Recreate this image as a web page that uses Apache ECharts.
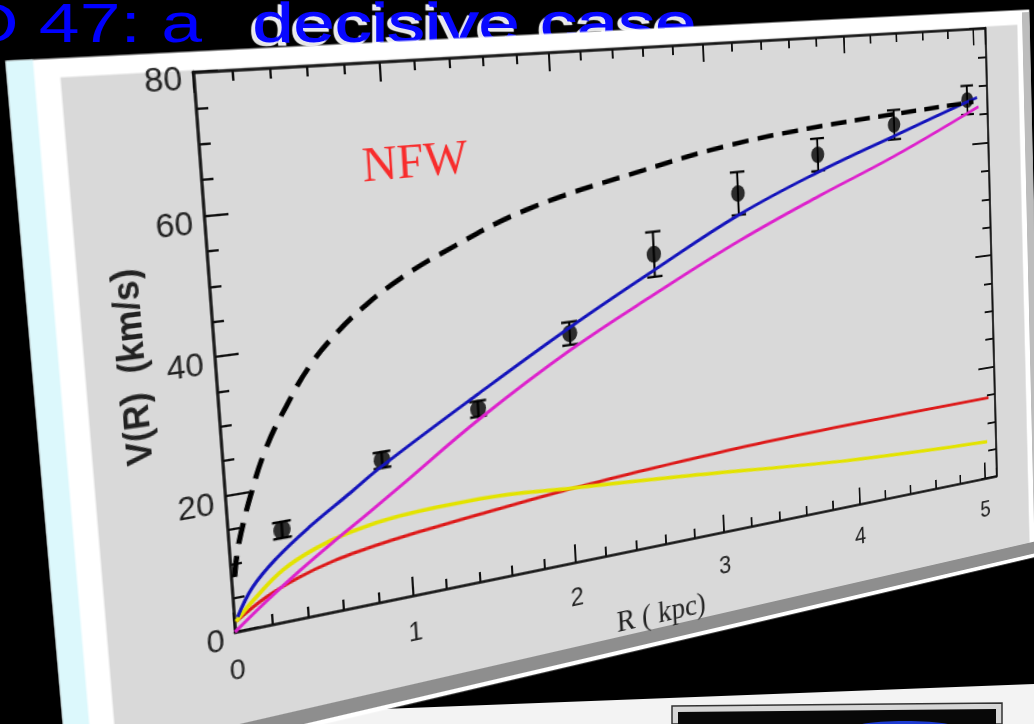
<!DOCTYPE html>
<html>
<head>
<meta charset="utf-8">
<script src="https://cdn.jsdelivr.net/npm/echarts@6/dist/echarts.min.js"></script>
<style>
  html, body { margin: 0; padding: 0; background: #000; overflow: hidden; }
  #stage { position: absolute; left: 0; top: 0; width: 1034px; height: 724px; }
  #plot { position: absolute; left: 0; top: 0; width: 1010px; height: 600px; transform-origin: 0 0; }
</style>
</head>
<body>
<div id="stage"></div>
<div id="plot"></div>
<script>
// ---- DDO 47 rotation curve: observed points (R in kpc, V in km/s) ----
const pointR   = [0.29, 0.87, 1.45, 2.04, 2.61, 3.20, 3.78, 4.36, 4.94];
const pointV   = [13.6, 21.4, 26.8, 36.4, 47.2, 55.5, 60.6, 64.5, 67.7];
const pointErr = [1.2, 1.2, 1.2, 1.8, 3.6, 3.5, 2.7, 2.5, 2.5];

// NFW halo prediction (dashed)
const nfwR = [0.02, 0.05, 0.14, 0.24, 0.36, 0.50, 0.66, 0.84, 1.04, 1.28, 1.81, 2.57, 3.14, 3.73, 4.36, 4.99];
const nfwV = [8.0, 12.3, 19.7, 26.1, 31.5, 36.8, 41.1, 44.8, 48.0, 51.0, 56.3, 60.7, 63.4, 65.1, 66.3, 67.3];

// total fit (blue)
const blueR = [0.02, 0.11, 0.25, 0.44, 0.68, 0.87, 1.45, 2.04, 2.61, 3.20, 3.78, 4.36, 4.94, 5.02];
const blueV = [2.1, 6.0, 9.6, 13.3, 17.3, 20.5, 29.0, 37.3, 44.7, 52.0, 57.7, 62.6, 67.4, 68.0];

// dark halo component (magenta)
const magentaR = [0, 0.18, 0.37, 0.57, 0.75, 0.96, 1.46, 2.04, 2.61, 3.20, 3.78, 4.36, 5.03];
const magentaV = [0, 3.6, 7.1, 10.5, 13.4, 16.9, 25.3, 33.8, 40.9, 47.8, 53.7, 59.2, 66.4];

// gas component (red)
const redR = [0.01, 0.18, 0.37, 0.56, 0.75, 0.94, 1.42, 2.02, 2.77, 3.38, 4.34, 5.05];
const redV = [1.5, 4.2, 6.2, 7.6, 8.5, 9.2, 10.5, 11.9, 13.1, 13.8, 14.3, 14.5];

// stellar disk component (yellow)
const yellowR = [0.01, 0.11, 0.28, 0.47, 0.66, 0.95, 1.43, 2.02, 2.72, 3.97, 5.03];
const yellowV = [1.5, 4.1, 7.7, 10.0, 11.4, 12.5, 12.9, 11.9, 10.6, 7.9, 6.6];

// axis ticks
const xMajorStep = 1, xMinorStep = 0.2, xMax = 5.1;
const yMajorStep = 20, yMinorStep = 5, yMax = 80;

// annotation
const nfwTag = { text: 'NFW', r: 1.17, v: 64.7 };

const pairs = (xs, ys) => xs.map((x, i) => [x, ys[i]]);

// ---------- flat slide layout ----------
const L = 150, T = 20, W = 800, H = 470;
// where the plot frame of the slide lands on screen (TL, TR, BR, BL)
const frameQuad = [[193, 72], [985, 28], [996.5, 476], [235, 632]];

function quadMatrix(x0f, y0f, w, h, q) {
  const [p0, p1, p2, p3] = q;
  const dx1 = p1[0] - p2[0], dx2 = p3[0] - p2[0], dx3 = p0[0] - p1[0] + p2[0] - p3[0];
  const dy1 = p1[1] - p2[1], dy2 = p3[1] - p2[1], dy3 = p0[1] - p1[1] + p2[1] - p3[1];
  const den = dx1 * dy2 - dx2 * dy1;
  const g = (dx3 * dy2 - dx2 * dy3) / den;
  const hh = (dx1 * dy3 - dx3 * dy1) / den;
  const a = p1[0] - p0[0] + g * p1[0], b = p3[0] - p0[0] + hh * p3[0], c = p0[0];
  const d = p1[1] - p0[1] + g * p1[1], e = p3[1] - p0[1] + hh * p3[1], f = p0[1];
  const A = a / w, B = b / h, C = c - a * x0f / w - b * y0f / h;
  const D = d / w, E = e / h, F = f - d * x0f / w - e * y0f / h;
  const G = g / w, HH = hh / h, I = 1 - g * x0f / w - hh * y0f / h;
  return [A / I, D / I, 0, G / I, B / I, E / I, 0, HH / I, 0, 0, 1, 0, C / I, F / I, 0, 1];
}
document.getElementById('plot').style.transform =
  'matrix3d(' + quadMatrix(L, T, W, H, frameQuad).join(',') + ')';

// ---------- background: black page, title, next slide peeking in ----------
const stage = echarts.init(document.getElementById('stage'), null, { renderer: 'canvas' });
stage.setOption({
  backgroundColor: '#000',
  graphic: { elements: [
    { type: 'polygon', z: 1, shape: { points: [[200, 716], [1034, 684], [1034, 724], [200, 724]] },
      style: { fill: '#f3f3f3' } },
    { type: 'polygon', z: 2, shape: { points: [[672, 706], [1002, 703], [1002, 724], [672, 724]] },
      style: { fill: '#d6d6d6', stroke: '#333', lineWidth: 1.5 } },
    { type: 'polygon', z: 3, shape: { points: [[678, 712], [996, 709], [996, 724], [678, 724]] },
      style: { fill: '#080808' } },
    { type: 'ellipse', z: 4, shape: { cx: 905, cy: 729, rx: 55, ry: 8 }, style: { fill: '#1e3cd2' } },
    { type: 'text', z: 5, x: 202, y: 27, scaleX: 1.31,
      style: { text: 'DDO 47: a', font: '56px "Liberation Sans", Arial, sans-serif',
               fill: '#0000ff', align: 'right', verticalAlign: 'middle' } },
    { type: 'text', z: 5, x: 252, y: 27, scaleX: 1.32,
      style: { text: 'decisive case', font: '56px "Liberation Sans", Arial, sans-serif',
               fill: '#0808ff', align: 'left', verticalAlign: 'middle',
               stroke: '#0808ff', lineWidth: 1.5,
               textShadowColor: 'rgba(255,255,255,0.9)', textShadowBlur: 1,
               textShadowOffsetX: -3, textShadowOffsetY: 3 } }
  ] }
});

// ---------- the slide with the plot ----------
const px = u => L + u * W, py = v => T + v * H;   // v measured downward from frame top
const panel = [
  { type: 'rect', z: -30, shape: { x: px(-0.177), y: py(-0.035), width: px(1.072) - px(-0.177), height: py(1.207) - py(-0.035) }, style: { fill: '#ffffff' } },
  { type: 'rect', z: -29, shape: { x: px(-0.177), y: py(-0.035), width: px(-0.152) - px(-0.177), height: py(1.207) - py(-0.035) }, style: { fill: '#dcf8fc' } },
  { type: 'rect', z: -29, shape: { x: px(1.060), y: py(-0.030), width: px(1.072) - px(1.060), height: py(1.207) - py(-0.030) }, style: { fill: '#bdbdbd' } },
  { type: 'polygon', z: -28, shape: { points: [[px(-0.05), py(1.170)], [px(1.072), py(1.170)], [px(1.072), py(1.198)], [px(-0.02), py(1.198)]] }, style: { fill: '#8e8e8e' } },
  { type: 'rect', z: -27, shape: { x: px(-0.128), y: py(-0.003), width: px(1.052) - px(-0.128), height: py(1.170) - py(-0.003) }, style: { fill: '#d9d9d9' } }
];

const labelFont = '"Liberation Sans", Arial, sans-serif';
const frameLine = { show: true, onZero: false, lineStyle: { color: '#111', width: 2.5 } };
const noLine = { show: false, onZero: false };
const tickStyle = { color: '#111', width: 2 };

function xAx(pos, step, tickLen, withLine, withLabel) {
  return {
    type: 'value', position: pos, min: 0, max: xMax, interval: step,
    axisLine: withLine ? frameLine : noLine,
    axisTick: { show: true, inside: true, length: tickLen, lineStyle: tickStyle },
    axisLabel: withLabel
      ? { show: true, showMaxLabel: false, margin: 22, fontSize: 24, color: '#222', fontFamily: labelFont }
      : { show: false },
    splitLine: { show: false }
  };
}
function yAx(pos, step, tickLen, withLine, withLabel) {
  return {
    type: 'value', position: pos, min: 0, max: yMax, interval: step,
    axisLine: withLine ? frameLine : noLine,
    axisTick: { show: true, inside: true, length: tickLen, lineStyle: tickStyle },
    axisLabel: withLabel
      ? { show: true, margin: 9, fontSize: 27, color: '#222', fontFamily: labelFont,
          verticalAlign: 'top', lineHeight: 14 }
      : { show: false },
    splitLine: { show: false }
  };
}

const xAxes = [
  xAx('bottom', xMajorStep, 17, true, true),
  xAx('bottom', xMinorStep, 9, false, false),
  xAx('top', xMajorStep, 17, true, false),
  xAx('top', xMinorStep, 9, false, false)
];
Object.assign(xAxes[0], {
  name: 'R ( kpc)', nameLocation: 'middle', nameGap: 53,
  nameTextStyle: { fontSize: 29, color: '#222', fontFamily: '"Liberation Serif", "Times New Roman", serif' }
});
const yAxes = [
  yAx('left', yMajorStep, 20, true, true),
  yAx('left', yMinorStep, 10, false, false),
  yAx('right', yMajorStep, 20, true, false),
  yAx('right', yMinorStep, 10, false, false)
];
Object.assign(yAxes[0], {
  name: 'V(R)  (km/s)', nameLocation: 'middle', nameGap: 42,
  nameTextStyle: { fontSize: 29, fontWeight: 'bold', color: '#222', fontFamily: '"Liberation Sans", Arial, sans-serif' }
});

function curve(name, xs, ys, color, width, type) {
  return {
    name, type: 'line', data: pairs(xs, ys), showSymbol: false, smooth: 0.4,
    lineStyle: { color, width, type: type || 'solid' }, silent: true
  };
}

const chart = echarts.init(document.getElementById('plot'), null, { renderer: 'canvas' });
chart.setOption({
  backgroundColor: 'transparent',
  animation: false,
  grid: { left: L, top: T, width: W, height: H, containLabel: false },
  graphic: { elements: panel },
  xAxis: xAxes,
  yAxis: yAxes,
  series: [
    curve('gas', redR, redV, '#dd1a1a', 3),
    curve('disk', yellowR, yellowV, '#e3e300', 3.5),
    curve('halo', magentaR, magentaV, '#dd22cc', 3),
    curve('total', blueR, blueV, '#1414bb', 3),
    curve('NFW', nfwR, nfwV, '#000000', 4.5, [18, 10]),
    {
      name: 'errors', type: 'custom', silent: true,
      data: pointR.map((r, i) => [r, pointV[i], pointErr[i]]),
      encode: { x: 0, y: 1 },
      renderItem: (params, api) => {
        const x = api.value(0), y = api.value(1), e = api.value(2);
        const top = api.coord([x, y + e]), bot = api.coord([x, y - e]);
        const cw = 8, st = { stroke: '#000', lineWidth: 2.2 };
        return { type: 'group', children: [
          { type: 'line', shape: { x1: top[0], y1: top[1], x2: bot[0], y2: bot[1] }, style: st },
          { type: 'line', shape: { x1: top[0] - cw, y1: top[1], x2: top[0] + cw, y2: top[1] }, style: st },
          { type: 'line', shape: { x1: bot[0] - cw, y1: bot[1], x2: bot[0] + cw, y2: bot[1] }, style: st }
        ] };
      }
    },
    {
      name: 'data', type: 'scatter', silent: true, data: pairs(pointR, pointV),
      symbol: 'circle', symbolSize: [15, 16], itemStyle: { color: '#000' }
    },
    {
      name: 'tag', type: 'scatter', silent: true, data: [[nfwTag.r, nfwTag.v]], symbolSize: 0,
      label: { show: true, position: 'inside', formatter: nfwTag.text, color: '#ff0000', fontSize: 43,
               fontFamily: '"Liberation Serif", "Times New Roman", serif' }
    }
  ]
});
</script>
</body>
</html>
